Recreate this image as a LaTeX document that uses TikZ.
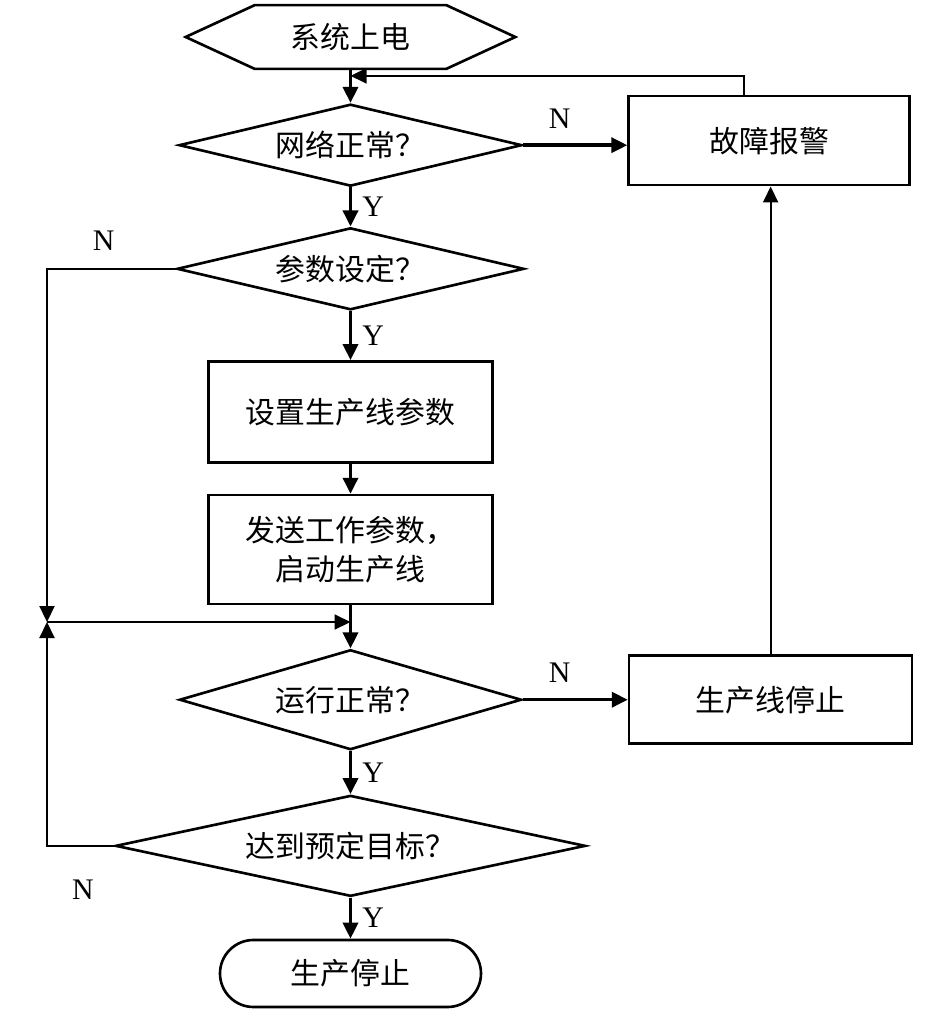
\documentclass[tikz,border=0pt]{standalone}
\usepackage{fontspec}
\setmainfont{Liberation Serif}
\newfontfamily\cjk{Noto Sans CJK SC}
\usepackage{tikz}
\usetikzlibrary {arrows.meta,positioning,shapes.geometric}
\tikzset{stepbox/.style={
    % The shape:
    rectangle,
    % The size:
    minimum width=56.8mm,
    minimum height=20.2mm,
    % The border:
    line width=1.5pt,
    draw=black,
    % Font
    font=\cjk\fontsize{17}{22}\selectfont
    },
    startnode/.style={
    rectangle,
    minimum width=65.8mm,
    minimum height=12.6mm,
    inner sep=0pt,
    font=\cjk\fontsize{17}{22}\selectfont
    },
    endnode/.style={
    rectangle,rounded corners=6.7mm,
    minimum width=52.2mm,
    minimum height=13.4mm,
    line width=1.5pt,
    draw=black,
    font=\cjk\fontsize{17}{22}\selectfont
    },
    decision/.style={
    diamond,
    aspect=4.2,
    inner sep=0pt,
    line width=1.5pt,
    draw=black,
    font=\cjk\fontsize{17}{22}\selectfont
    },
    arr/.style={line width=2pt,-{Triangle[length=3.2mm,width=3mm]}},
    thinarr/.style={line width=1.2pt,-{Triangle[length=3.2mm,width=3mm]}},
    yn/.style={font=\fontsize{17}{20}\selectfont,inner sep=0pt},
}

\begin{document}
\begin{tikzpicture}
    \useasboundingbox (0,0) rectangle (18.68,-20.48);
    \node (start)  [startnode] at (7.01,-0.74)            {系统上电};
    \node (net)    [decision,minimum width=68.6mm,minimum height=16.4mm,below=6.8mm of start] {网络正常？};
    \node (param)  [decision,minimum width=69.4mm,minimum height=16.4mm,below=7.8mm of net]   {参数设定？};
    \node (setup)  [stepbox,below=9.8mm of param]         {设置生产线参数};
    \node (send)   [stepbox,minimum height=21.8mm,align=center,below=6mm of setup] {发送工作参数，\\ 启动生产线};
    \node (run)    [decision,minimum width=68.4mm,minimum height=20mm,below=8.6mm of send]    {运行正常？};
    \node (goal)   [decision,aspect=4.65,minimum width=94mm,minimum height=20.2mm,below=8.6mm of run] {达到预定目标？};
    \node (stop)   [endnode,below=8.2mm of goal]          {生产停止};
    \node (alarm)  [stepbox,minimum width=56.2mm,minimum height=17.8mm,right=20.8mm of net,yshift=0.9mm] {故障报警};
    \node (halt)   [stepbox,minimum width=56.6mm,minimum height=17.6mm,right=21mm of run]  {生产线停止};

    % hexagon round the start node
    \draw[line width=1.5pt] (start.west) -- ([xshift=13.8mm]start.north west)
        -- ([xshift=-13.8mm]start.north east) -- (start.east)
        -- ([xshift=-13.8mm]start.south east) -- ([xshift=13.8mm]start.south west) -- cycle;

    \coordinate (fb)    at ([yshift=-1.4mm]start.south);
    \coordinate (junc)  at (0.94,-12.44);
    \coordinate (merge) at (send.south |- junc);

    \draw[arr] (start) -- (net);
    \draw[arr] (net) -- node (y1) [yn,right=2mm] {Y} (param);
    \draw[arr] (param) -- node (y2) [yn,right=2mm] {Y} (setup);
    \draw[arr] (setup) -- (send);
    \draw[arr] (send) -- (run);
    \draw[arr] (run) -- node (y3) [yn,right=2mm] {Y} (goal);
    \draw[arr] (goal) -- node (y4) [yn,right=2mm] {Y} (stop);
    \draw[arr] (net) -- node (n1) [yn,above=3mm,pos=0.35] {N} (alarm.west |- net);
    \draw[arr] (run) -- node (n3) [yn,above=3mm,pos=0.35] {N} (halt);
    \draw[thinarr] (halt.north) -- (halt.north |- alarm.south);
    \draw[thinarr] ([xshift=-5mm]alarm.north) |- (fb);
    \draw[thinarr] (param.west) -| node (n2) [yn,above=3.5mm,pos=0.28] {N} (junc);
    \draw[thinarr] (goal.west) -| (junc);
    \draw[thinarr] (junc) -- (merge);
    \node (n4) [yn] at (1.66,-17.8) {N};
\end{tikzpicture}
\end{document}
